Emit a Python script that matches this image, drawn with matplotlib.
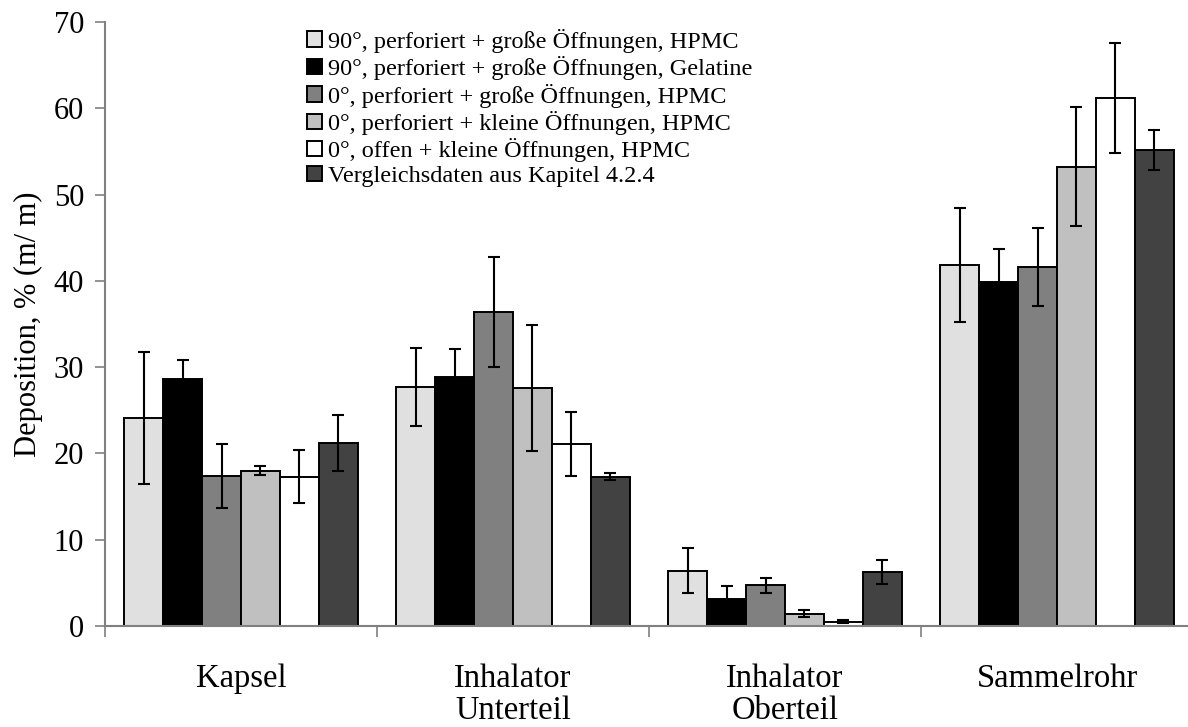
import matplotlib
matplotlib.use("Agg")
import matplotlib.pyplot as plt
import numpy as np

plt.rcParams['font.family'] = ['Liberation Serif', 'DejaVu Serif']

categories = ["Kapsel", "Inhalator\nUnterteil", "Inhalator\nOberteil", "Sammelrohr"]
series_labels = [
    "90°, perforiert + große Öffnungen, HPMC",
    "90°, perforiert + große Öffnungen, Gelatine",
    "0°, perforiert + große Öffnungen, HPMC",
    "0°, perforiert + kleine Öffnungen, HPMC",
    "0°, offen + kleine Öffnungen, HPMC",
    "Vergleichsdaten aus Kapitel 4.2.4",
]
colors = ["#e0e0e0", "#000000", "#808080", "#c0c0c0", "#ffffff", "#424242"]

s1 = [24.1, 27.7, 6.4, 41.8]
s2 = [28.6, 28.8, 3.1, 39.9]
s3 = [17.4, 36.4, 4.7, 41.6]
s4 = [18.0, 27.6, 1.4, 53.2]
s5 = [17.3, 21.1, 0.5, 61.2]
s6 = [21.2, 17.3, 6.3, 55.2]

e1 = [7.7, 4.5, 2.6, 6.6]
e2 = [2.2, 3.3, 1.5, 3.8]
e3 = [3.7, 6.4, 0.9, 4.5]
e4 = [0.5, 7.3, 0.4, 6.9]
e5 = [3.1, 3.7, 0.2, 6.4]
e6 = [3.2, 0.4, 1.4, 2.3]

values = [s1, s2, s3, s4, s5, s6]
errors = [e1, e2, e3, e4, e5, e6]

fig = plt.figure(figsize=(11.88, 7.27), dpi=100)
ax = fig.add_axes([105/1188, 101/727, 1088/1188, 604/727])

n = len(values)
w = 1.0 / 7
x = np.arange(len(categories))
for j, (v, e) in enumerate(zip(values, errors)):
    pos = x + 0.5 + (j - (n - 1) / 2) * w
    ax.bar(pos, v, width=w, color=colors[j], edgecolor="black", linewidth=1.4,
           label=series_labels[j], zorder=2)
    ax.errorbar(pos, v, yerr=e, fmt="none", ecolor="black", elinewidth=1.5,
                capsize=4, capthick=1.5, zorder=3)

ax.set_xlim(0, 4)
ax.set_ylim(0, 70)
ax.set_yticks(np.arange(0, 71, 10))
ax.tick_params(axis='y', labelsize=22, length=7, width=1.2, color="#808080", direction="out", pad=8)

ax.set_xticks(x + 0.5)
ax.set_xticklabels(categories, fontsize=23.5, linespacing=1.08)
ax.tick_params(axis='x', which='major', length=0, pad=27)
ax.set_xticks(np.arange(0, 5), minor=True)
ax.tick_params(axis='x', which='minor', length=8, width=1.2, color="#808080", direction="out")

for s in ["top", "right"]:
    ax.spines[s].set_visible(False)
for s in ["left", "bottom"]:
    ax.spines[s].set_color("#808080")
    ax.spines[s].set_linewidth(1.5)

ax.set_ylabel("Deposition, % (m/ m)", fontsize=22, labelpad=8)

leg = ax.legend(loc="upper left", bbox_to_anchor=(0.177, 1.005), frameon=False,
                fontsize=17.5, handlelength=0.6, handleheight=0.6, handletextpad=0.25,
                labelspacing=0.14, borderaxespad=0)

fig.savefig("out.png", dpi=100)
